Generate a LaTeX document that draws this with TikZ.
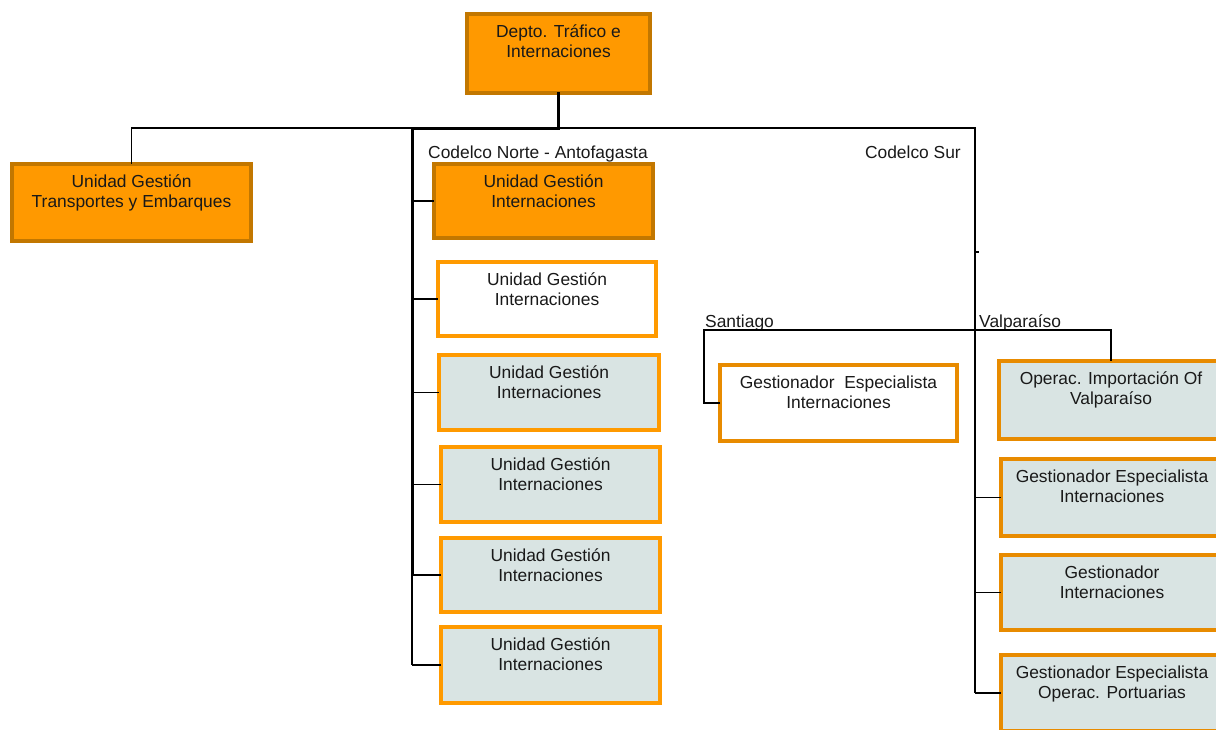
\documentclass[tikz,border=0pt]{standalone}
\usepackage{fontspec}
\setmainfont{Liberation Sans}
\usetikzlibrary{calc}

\definecolor{orangefill}{HTML}{FF9900}
\definecolor{orangedark}{HTML}{C27700}
\definecolor{orangeline}{HTML}{FF9A00}
\definecolor{orangesur}{HTML}{E88B00}
\definecolor{paleblue}{HTML}{D9E4E3}

\tikzset{
  unit/.style={draw, line width=4pt, inner sep=0pt, outer sep=0pt},
  headunit/.style={unit, fill=orangefill, draw=orangedark},
  plainunit/.style={unit, fill=white, draw=orangeline},
  paleunit/.style={unit, fill=paleblue, draw=orangeline},
  plainsur/.style={unit, fill=white, draw=orangesur},
  palesur/.style={unit, fill=paleblue, draw=orangesur},
  boxtext/.style={align=center, inner sep=0pt, anchor=north,
    font=\fontsize{17.4}{20}\selectfont, text=black!90},
  tag/.style={inner sep=0pt, font=\fontsize{17.4}{20}\selectfont, text=black!90},
  thin/.style={line width=1.3pt, black},
  thick/.style={line width=3pt, black},
}

% #1 style, #2 name, #3 left, #4 top, #5 width, #6 height, #7 text (outer sizes)
\newcommand\orgunit[7]{%
  \node[#1, minimum width={#5-4}, minimum height={#6-4}]
    (#2) at ({#3+#5/2},{#4+#6/2}) {};
  \node[boxtext] (#2-text) at ({#3+#5/2},{#4+10}) {\rule{0pt}{15pt}#7};
}

\begin{document}
\begin{tikzpicture}[x=1pt, y=-1pt]
  \useasboundingbox (0,0) rectangle (1216,729);

  % top of the chart
  \orgunit{headunit}{dept}{465}{12}{187}{83}{Depto. Tráfico e\\Internaciones}
  \orgunit{headunit}{tye}{10}{162}{243}{81}{Unidad Gestión\\Transportes y Embarques}

  % Codelco Norte column
  \orgunit{headunit}{n0}{432}{162}{223}{78}{Unidad Gestión\\Internaciones}
  \orgunit{plainunit}{n1}{436}{260}{222}{78}{Unidad Gestión\\Internaciones}
  \orgunit{paleunit}{n2}{437}{353}{224}{79}{Unidad Gestión\\Internaciones}
  \orgunit{paleunit}{n3}{439}{445}{223}{79}{Unidad Gestión\\Internaciones}
  \orgunit{paleunit}{n4}{439}{536}{223}{78}{Unidad Gestión\\Internaciones}
  \orgunit{paleunit}{n5}{439}{625}{223}{80}{Unidad Gestión\\Internaciones}

  % Codelco Sur column
  \orgunit{plainsur}{sg}{718}{363}{241}{80}{Gestionador\ \ Especialista\\Internaciones}
  \orgunit{palesur}{v1}{997}{359}{228}{82}{Operac. Importación Of\\Valparaíso}
  \orgunit{palesur}{v2}{999}{457}{226}{81}{Gestionador Especialista\\Internaciones}
  \orgunit{palesur}{v3}{999}{553}{226}{79}{Gestionador\\Internaciones}
  \orgunit{palesur}{v4}{999}{653}{226}{80}{Gestionador Especialista\\Operac. Portuarias}

  % group labels
  \node[tag, anchor=base west] (lnorte) at (428,158) {Codelco Norte - Antofagasta};
  \node[tag, anchor=base east] (lsur) at (961,158) {Codelco Sur};
  \node[tag, anchor=base west] (lstgo) at (705,327) {Santiago};
  \node[tag, anchor=base west] (lvalpo) at (979,327) {Valparaíso};

  % bus junctions
  \coordinate (bus) at (412,128);
  \coordinate (nmid) at (412,575);
  \coordinate (surtop) at (975,128);
  \coordinate (surmid) at (975,243);
  \coordinate (surtick) at (975,252);
  \coordinate (stgo) at (704,330);

  % main connectors
  \draw[thick, line cap=rect] (dept.south) |- (bus);
  \draw[thin] (bus) -| (tye.north);
  \draw[thin] (dept.south |- bus) -- (surtop) -- (surmid);

  % Norte branch line
  \draw[thick] (bus) -- (nmid);
  \draw[thin] (nmid) -- (bus |- n5.west);
  \foreach \b in {n0,n1,n2,n3,n4,n5}
    \draw[thin] (bus |- \b.west) -- (\b.west);

  % Sur branch line
  \draw[line width=2.8pt] (surmid) -- (surmid |- v4.west);
  \draw[thin] (surtick) -- ++(4,0);
  \foreach \b in {v2,v3,v4}
    \draw[thin] (surmid |- \b.west) -- (\b.west);
  \draw[thin] (sg.west) -| (stgo) -- (stgo -| v1.north) -- (v1.north);
\end{tikzpicture}
\end{document}
